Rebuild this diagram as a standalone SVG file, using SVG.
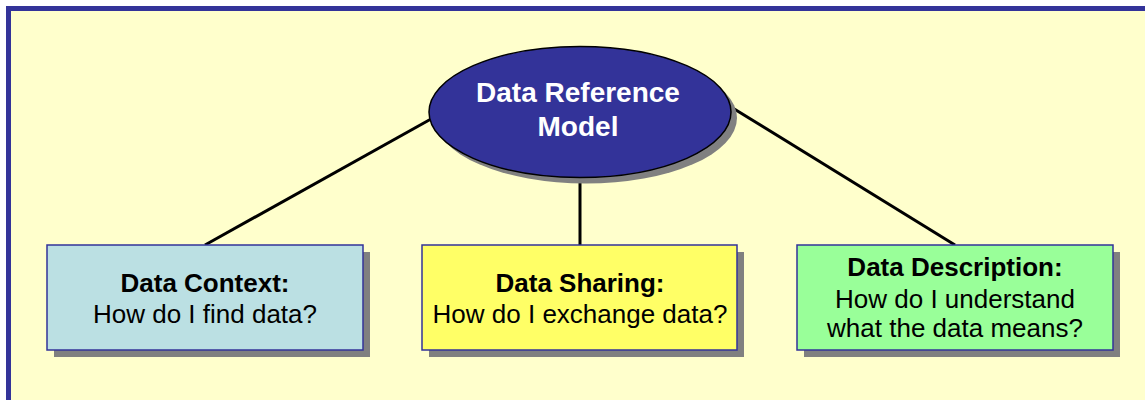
<svg xmlns="http://www.w3.org/2000/svg" width="1145" height="400" viewBox="0 0 1145 400">
  <style>
    .shadow { fill: #808080; }
    .box { stroke: #333399; stroke-width: 1.5; }
    .link { stroke: #000000; stroke-width: 3; fill: none; }
    .title { font-family: "Liberation Sans", Arial, sans-serif; font-weight: bold; font-size: 26px; fill: #000000; text-anchor: middle; }
    .body { font-family: "Liberation Sans", Arial, sans-serif; font-size: 26px; fill: #000000; text-anchor: middle; }
    .hub { font-family: "Liberation Sans", Arial, sans-serif; font-weight: bold; font-size: 28px; fill: #ffffff; text-anchor: middle; }
  </style>
  <rect width="1145" height="400" fill="#ffffff"/>
  <!-- panel background and frame -->
  <rect x="6" y="6" width="1200" height="500" fill="#FFFFCC"/>
  <path d="M10.5 1000 V10.5 H1200" fill="none" stroke="#A0A0A0" stroke-width="1"/>
  <path d="M8.5 1000 V8.5 H1200" fill="none" stroke="#333399" stroke-width="5"/>

  <g id="connectors">
    <line class="link" x1="431" y1="119" x2="205" y2="245"/>
    <line class="link" x1="580" y1="176" x2="580" y2="245"/>
    <line class="link" x1="731" y1="107" x2="955" y2="245"/>
  </g>

  <g id="hub">
    <ellipse class="shadow" cx="586" cy="118" rx="151" ry="65.5"/>
    <ellipse cx="580" cy="112" rx="151" ry="65.5" fill="#333399" stroke="#000000" stroke-width="1.5"/>
    <text class="hub" x="578" y="102">Data Reference</text>
    <text class="hub" x="578" y="136">Model</text>
  </g>

  <g id="context">
    <rect class="shadow" x="54" y="252" width="316" height="105"/>
    <rect class="box" x="47" y="245" width="316" height="105" fill="#BBE0E3"/>
    <text class="title" x="205" y="292">Data Context:</text>
    <text class="body" x="205" y="323">How do I find data?</text>
  </g>

  <g id="sharing">
    <rect class="shadow" x="429" y="252" width="315" height="105"/>
    <rect class="box" x="422" y="245" width="315" height="105" fill="#FFFF66"/>
    <text class="title" x="580" y="292">Data Sharing:</text>
    <text class="body" x="580" y="323">How do I exchange data?</text>
  </g>

  <g id="description">
    <rect class="shadow" x="804" y="252" width="316" height="105"/>
    <rect class="box" x="797" y="245" width="316" height="105" fill="#99FF99"/>
    <text class="title" x="955" y="276">Data Description:</text>
    <text class="body" x="955" y="308">How do I understand</text>
    <text class="body" x="955" y="337">what the data means?</text>
  </g>
</svg>
